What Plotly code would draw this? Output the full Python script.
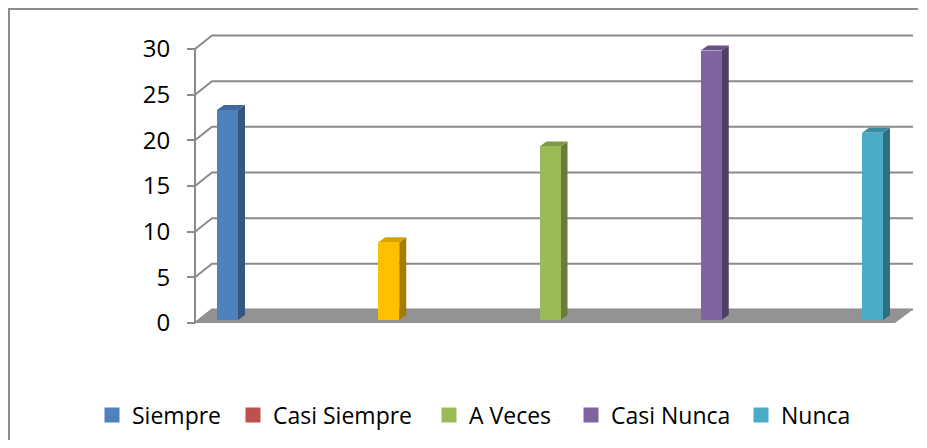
import plotly.graph_objects as go

# ---- data ----
categories = ["Siempre", "Casi Siempre", "A Veces", "Casi Nunca", "Nunca"]
values = [23, 8.5, 19, 29.5, 20.5]
tick_vals = [0, 5, 10, 15, 20, 25, 30]
tick_text = ["0", "5", "10", "15", "20", "25", "30"]

# ---- styles ----
legend_colors = ["#4F81BD", "#C0504D", "#9BBB59", "#8064A2", "#4BACC6"]
front_colors = ["#4F81BD", "#FFC000", "#9BBB59", "#8064A2", "#4BACC6"]
side_colors = ["#34567F", "#A67C00", "#677D39", "#4F3E66", "#2E6F80"]
top_colors = ["#3F6A9E", "#D9A200", "#7E9A47", "#675185", "#3B8CA2"]
GRID = "#8A8A8A"
FLOOR = "#939393"
FONT = "Open Sans"

# page has an 8px body margin on every side; keep the figure inside the window
OFF = 8
W_FIG, H_FIG = 927 - 2 * OFF, 448 - 2 * OFF
# plot area in page pixels
PL, PR, PT, PB = 180, 918, 28, 335
ML, MT = PL - OFF, PT - OFF
MR = W_FIG - (PR - OFF)
MB = H_FIG - (PB - OFF)
PW = PR - PL
PH = PB - PT

# pixel geometry of the pseudo-3D frame (page pixels)
PX_PER_UNIT = 9.133
ZERO_PX = 323
X0_PX, STEP_PX = 227.5, 161.25


def xu(px):
    return (px - X0_PX) / STEP_PX


def yu(px):
    return px / PX_PER_UNIT


y_min = -(PB - ZERO_PX) / PX_PER_UNIT
y_max = (ZERO_PX - PT) / PX_PER_UNIT
x_min = xu(PL)
x_max = xu(PR)

AX_X = xu(195)
BACK_L = xu(212)
BACK_R = xu(913)
FLOOR_FR = xu(895)
DEPTH_Y = yu(13.5)
BAR_W = 21 / STEP_PX
BASE = yu(3)
SIDE_DX = 7 / STEP_PX
SIDE_DY = yu(5)

fig = go.Figure()

legend_names = ["legend", "legend2", "legend3", "legend4", "legend5"]
for i, (cat, v) in enumerate(zip(categories, values)):
    fig.add_trace(go.Bar(
        x=[i], y=[v], base=BASE, width=BAR_W, name=cat,
        marker=dict(color=front_colors[i], line=dict(width=0)),
        showlegend=False, hoverinfo="name+y",
    ))
    # legend entry (legend swatch colour of the series)
    fig.add_trace(go.Scatter(
        x=[None], y=[None], name=cat, mode="markers",
        marker=dict(symbol="square", size=15, color=legend_colors[i],
                    line=dict(width=0)),
        showlegend=True, legend=legend_names[i],
    ))

shapes = []
# back wall gridlines with diagonal to front axis
for v in tick_vals:
    shapes.append(dict(
        type="path", xref="x", yref="y", layer="below",
        path=f"M{AX_X},{v} L{BACK_L},{v + DEPTH_Y} L{BACK_R},{v + DEPTH_Y}",
        line=dict(color=GRID, width=2),
    ))
# floor
shapes.append(dict(
    type="path", xref="x", yref="y", layer="below",
    path=f"M{AX_X},0 L{FLOOR_FR},0 L{BACK_R},{DEPTH_Y} L{BACK_L},{DEPTH_Y} Z",
    fillcolor=FLOOR, line=dict(width=0),
))
# front vertical axis line
shapes.append(dict(
    type="line", xref="x", yref="y", layer="below",
    x0=AX_X, x1=AX_X, y0=0, y1=tick_vals[-1],
    line=dict(color=GRID, width=2),
))
# bar side & top faces
for i, v in enumerate(values):
    xl = i - BAR_W / 2
    xr = i + BAR_W / 2
    top = BASE + v
    shapes.append(dict(
        type="path", xref="x", yref="y", layer="below",
        path=(f"M{xr},{BASE} L{xr + SIDE_DX},{BASE + SIDE_DY} "
              f"L{xr + SIDE_DX},{top + SIDE_DY} L{xr},{top} Z"),
        fillcolor=side_colors[i], line=dict(width=0),
    ))
    shapes.append(dict(
        type="path", xref="x", yref="y", layer="below",
        path=(f"M{xl},{top} L{xr},{top} L{xr + SIDE_DX},{top + SIDE_DY} "
              f"L{xl + SIDE_DX},{top + SIDE_DY} Z"),
        fillcolor=top_colors[i], line=dict(width=0),
    ))
# chart-area border (only top and left edges are inside the picture)
bx0 = (9 - PL) / PW
bx1 = (918 - PL) / PW
by_top = (PB - 9) / PH
by_bot = (PB - 440) / PH
shapes.append(dict(
    type="path", xref="paper", yref="paper",
    path=f"M{bx1},{by_top} L{bx0},{by_top} L{bx0},{by_bot}",
    line=dict(color="#8C8C8C", width=2),
))

# legends positioned individually (text left edges in page pixels)
text_left = [131, 272, 468, 610, 780]
leg_y = (PB - 415) / PH
legend_layout = {}
for k, name in enumerate(legend_names):
    legend_layout[name] = dict(
        x=(text_left[k] - 39 - PL) / PW, xanchor="left",
        y=leg_y, yanchor="middle", orientation="h",
        bgcolor="rgba(0,0,0,0)", borderwidth=0,
        font=dict(family=FONT, size=23, color="#000000"),
        itemclick=False, itemdoubleclick=False,
    )

fig.update_layout(
    width=W_FIG, height=H_FIG,
    margin=dict(l=ML, r=MR, t=MT, b=MB, autoexpand=False),
    paper_bgcolor="white", plot_bgcolor="white",
    barmode="overlay", bargap=0,
    shapes=shapes,
    xaxis=dict(range=[x_min, x_max], showgrid=False, zeroline=False,
               showticklabels=False, ticks="", showline=False, fixedrange=True),
    yaxis=dict(range=[y_min, y_max], showgrid=False, zeroline=False,
               tickvals=tick_vals, ticktext=tick_text,
               ticks="outside", ticklen=8, tickwidth=2, tickcolor=GRID,
               anchor="free", position=(195 - PL) / PW,
               showline=False, ticklabelstandoff=12,
               tickfont=dict(family=FONT, size=24, color="#000000"),
               fixedrange=True),
    **legend_layout,
)

fig.write_html("out.html")
